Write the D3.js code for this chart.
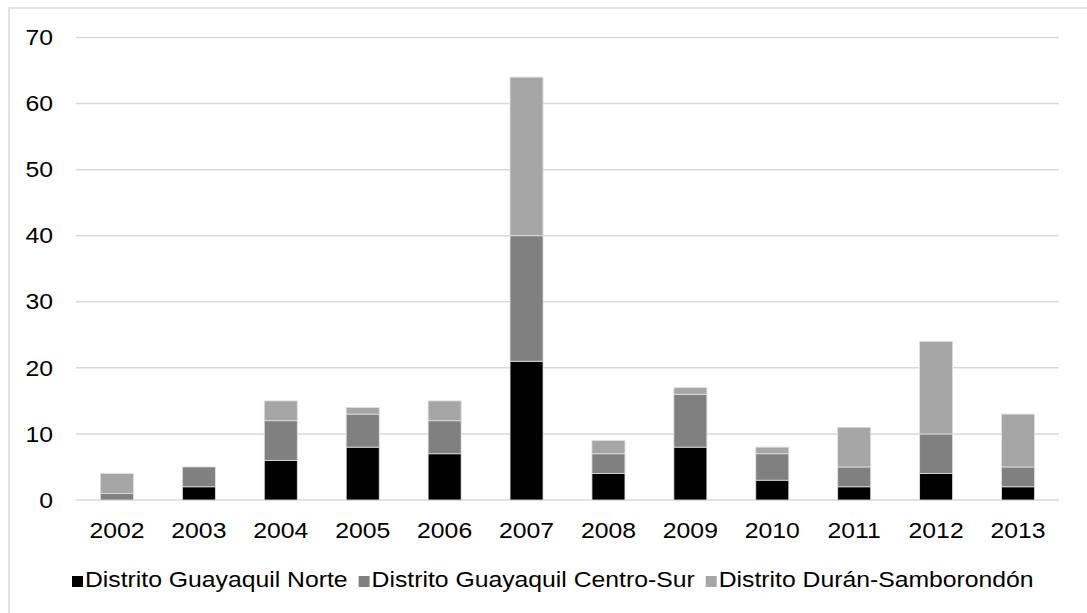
<!DOCTYPE html>
<html>
<head>
<meta charset="utf-8">
<script src="https://cdn.jsdelivr.net/npm/d3@7"></script>
<style>
  html, body { margin: 0; padding: 0; background: #fff; }
  svg { display: block; }
  text { font-family: "Liberation Sans", Arial, sans-serif; fill: #000; }
</style>
</head>
<body>
<svg id="chart" width="1087" height="613"></svg>
<script>
const years = ["2002","2003","2004","2005","2006","2007","2008","2009","2010","2011","2012","2013"];
const seriesNames = ["Distrito Guayaquil Norte","Distrito Guayaquil Centro-Sur","Distrito Durán-Samborondón"];
const norte     = [0, 2, 6, 8, 7, 21, 4, 8, 3, 2, 4, 2];
const centroSur = [1, 3, 6, 5, 5, 19, 3, 8, 4, 3, 6, 3];
const duran     = [3, 0, 3, 1, 3, 24, 2, 1, 1, 6, 14, 8];
const yTicks = [0, 10, 20, 30, 40, 50, 60, 70];
const colors = ["#000000", "#808080", "#a6a6a6"];

(function() {
const svg = d3.select("#chart");
const pLeft = 76, pRight = 1059, pTop = 37.5, pBottom = 500;
const fs = 22.5, sx = 1.1;

// chart border
svg.append("rect").attr("x", 9).attr("y", 8).attr("width", 1100).attr("height", 700)
  .attr("fill", "none").attr("stroke", "#d9d9d9").attr("stroke-width", 1.5);

const x = d3.scaleBand().domain(years).range([pLeft, pRight]).paddingInner(0.6).paddingOuter(0.3);
const y = d3.scaleLinear().domain([0, 70]).range([pBottom, pTop]);

// gridlines
svg.append("g").selectAll("line").data(yTicks).join("line")
  .attr("x1", pLeft).attr("x2", pRight)
  .attr("y1", d => y(d)).attr("y2", d => y(d))
  .attr("stroke", "#d9d9d9").attr("stroke-width", 1.5);

// y axis labels
const yAxis = d3.axisLeft(y).tickValues(yTicks).tickSize(0).tickPadding(0);
const yg = svg.append("g").attr("transform", `translate(${53},0)`).call(yAxis);
yg.select(".domain").remove();
yg.selectAll("text").attr("font-size", fs).attr("font-family", "Liberation Sans, Arial, sans-serif")
  .attr("fill", "#000").attr("transform", `scale(${sx},1)`);

// stack
const table = years.map((yr, i) => ({year: yr, a: norte[i], b: centroSur[i], c: duran[i]}));
const stack = d3.stack().keys(["a","b","c"])(table);

const bw = 33;
svg.append("g").selectAll("g").data(stack).join("g")
  .attr("fill", (d, i) => colors[i])
  .selectAll("rect").data(d => d.filter(s => s[1] - s[0] > 0)).join("rect")
  .attr("x", d => x(d.data.year) + x.bandwidth() / 2 - bw / 2)
  .attr("width", bw)
  .attr("y", d => y(d[1]))
  .attr("height", d => y(d[0]) - y(d[1]))
  .attr("stroke", "#e0e0e0").attr("stroke-width", 0.8);

// x axis labels
const xAxis = d3.axisBottom(x).tickSize(0).tickPadding(0);
const xg = svg.append("g").attr("transform", `translate(0,${pBottom + 22})`).call(xAxis);
xg.select(".domain").remove();
xg.selectAll("text").attr("font-size", fs).attr("font-family", "Liberation Sans, Arial, sans-serif")
  .attr("fill", "#000").attr("dy", "0.71em").attr("transform", `scale(${sx},1)`);

// legend
const lg = svg.append("g");
const items = lg.selectAll("g").data(seriesNames).join("g");
items.append("rect").attr("width", 11).attr("height", 11).attr("y", -11).attr("fill", (d, i) => colors[i]);
items.append("text").attr("font-size", fs).attr("transform", `translate(13,0) scale(${sx},1)`).text(d => d);
let cx = 0;
const pos = [];
const gap = 11;
items.each(function(d) {
  const w = this.querySelector("text").getComputedTextLength() * sx + 13;
  pos.push(cx);
  cx += w + gap;
});
const startX = 72;
items.attr("transform", (d, i) => `translate(${startX + pos[i]},587)`);
})();
</script>
</body>
</html>
